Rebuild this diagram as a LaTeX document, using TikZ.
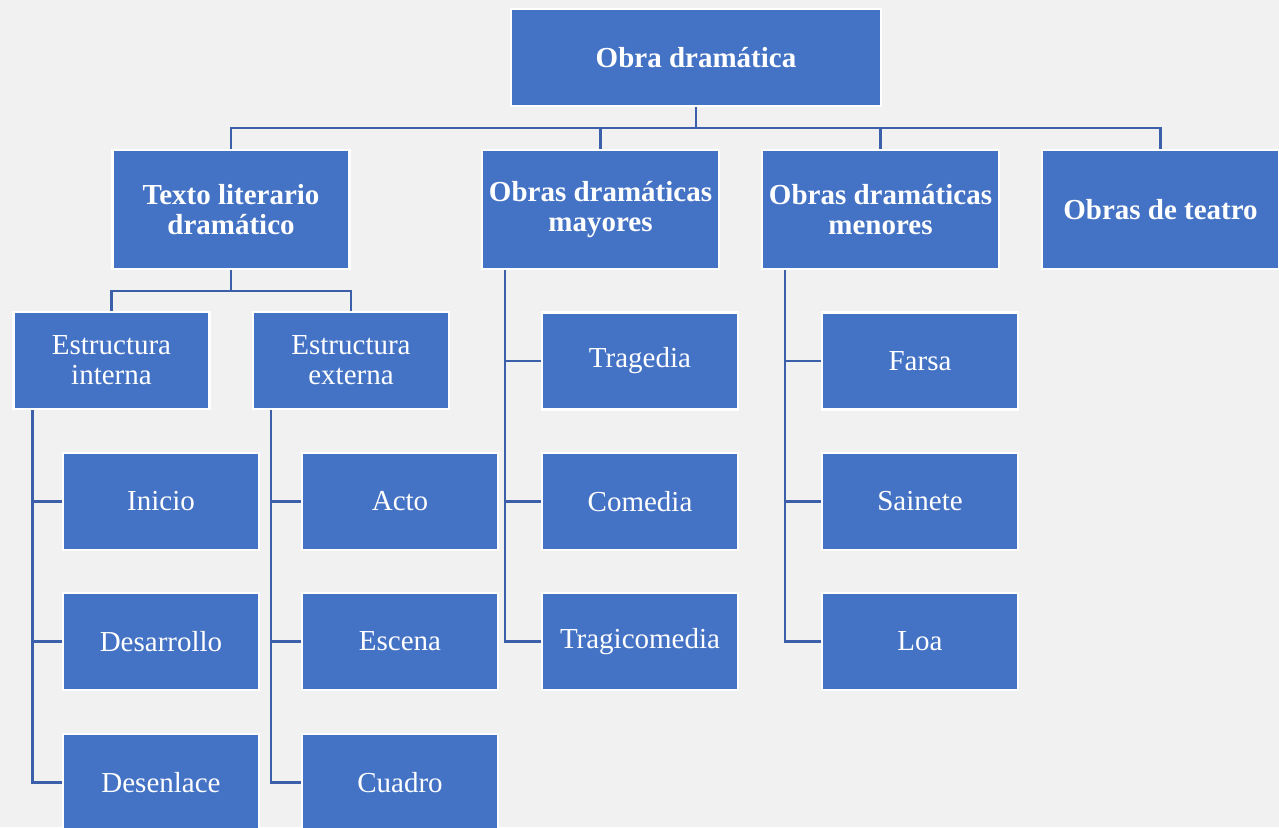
\documentclass[tikz,border=0pt]{standalone}
\usepackage{fontspec}
\setmainfont{Liberation Serif}
\definecolor{boxblue}{RGB}{68,114,196}
\definecolor{lineblue}{RGB}{59,95,168}
\definecolor{backgray}{RGB}{240,241,240}
\begin{document}
\begin{tikzpicture}[x=1pt,y=-1pt,
  box/.style={rectangle,fill=boxblue,draw=white,line width=2.5pt,text=white,
    align=center,inner sep=0pt,minimum width=196pt,minimum height=97pt,
    font=\fontsize{29}{30}\selectfont},
  headbox/.style={box,font=\fontsize{29}{30}\selectfont\bfseries,minimum width=237pt,minimum height=119pt},
  link/.style={draw=lineblue,line width=2.5pt}]
\path[use as bounding box,fill=backgray] (0,0) rectangle (1279,827);

\node[box,font=\fontsize{29}{30}\selectfont\bfseries,minimum width=370pt] (root) at (696,57.5) {Obra dramática};

\node[headbox] (texto) at (231,209.5) {Texto literario\\dramático};
\node[headbox] (mayores) at (600.5,209.5) {Obras dramáticas\\mayores};
\node[headbox] (menores) at (880.5,209.5) {Obras dramáticas\\menores};
\node[headbox] (teatro) at (1160.5,209.5) {Obras de teatro};

\coordinate (j1) at (696,128);
\path[link] (root) -- (j1);
\path[link] (j1) -| (texto);
\path[link] (j1) -| (mayores);
\path[link] (j1) -| (menores);
\path[link] (j1) -| (teatro);

\node[box] (interna) at (111.5,360.5) {Estructura\\interna};
\node[box] (externa) at (351,360.5) {Estructura\\externa};

\coordinate (j2) at (231,291);
\path[link] (texto) -- (j2);
\path[link] (j2) -| (interna);
\path[link] (j2) -| (externa);

% estructura interna
\node[box] (inicio) at (161,501.5) {Inicio};
\node[box] (desarrollo) at (161,641.5) {Desarrollo};
\node[box] (desenlace) at (161,782.5) {Desenlace};
\path[link] ([xshift=20pt]interna.south west) |- (inicio);
\path[link] ([xshift=20pt]interna.south west) |- (desarrollo);
\path[link] ([xshift=20pt]interna.south west) |- (desenlace);

% estructura externa
\node[box] (acto) at (400,501.5) {Acto};
\node[box] (escena) at (400,641.5) {Escena};
\node[box] (cuadro) at (400,782.5) {Cuadro};
\path[link] ([xshift=19pt]externa.south west) |- (acto);
\path[link] ([xshift=19pt]externa.south west) |- (escena);
\path[link] ([xshift=19pt]externa.south west) |- (cuadro);

% mayores
\node[box] (tragedia) at (640,361) {Tragedia};
\node[box] (comedia) at (640,501.5) {Comedia};
\node[box] (tragicomedia) at (640,641.5) {Tragicomedia};
\path[link] ([xshift=24pt]mayores.south west) |- (tragedia);
\path[link] ([xshift=24pt]mayores.south west) |- (comedia);
\path[link] ([xshift=24pt]mayores.south west) |- (tragicomedia);

% menores
\node[box] (farsa) at (920,361) {Farsa};
\node[box] (sainete) at (920,501.5) {Sainete};
\node[box] (loa) at (920,641.5) {Loa};
\path[link] ([xshift=24pt]menores.south west) |- (farsa);
\path[link] ([xshift=24pt]menores.south west) |- (sainete);
\path[link] ([xshift=24pt]menores.south west) |- (loa);
\end{tikzpicture}
\end{document}
